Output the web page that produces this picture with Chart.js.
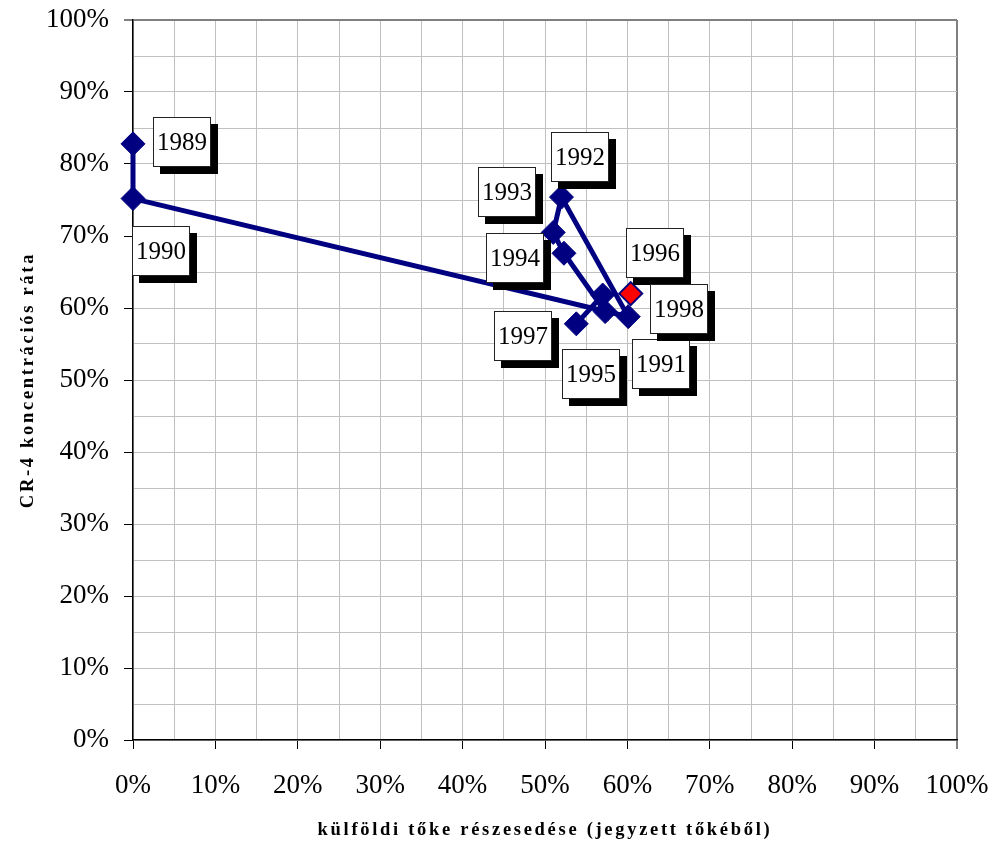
<!DOCTYPE html>
<html>
<head>
<meta charset="utf-8">
<script src="https://cdn.jsdelivr.net/npm/chart.js@4/dist/chart.umd.min.js"></script>
<style>
html,body{margin:0;padding:0;background:#fff;}
#wrap{width:997px;height:843px;position:relative;}
</style>
</head>
<body>
<div id="wrap"><canvas id="c" width="997" height="843"></canvas></div>
<script>
// Data (percent)
const years = ['1989','1990','1991','1992','1993','1994','1995','1996','1997'];
const foreignShare = [0, 0, 60.1, 52.0, 51.0, 52.3, 57.3, 57.0, 53.8];
const cr4 = [82.8, 75.2, 58.8, 75.4, 70.5, 67.6, 59.5, 61.8, 57.8];
const highlightYear = ['1998'];
const highlightShare = [60.4];
const highlightCr4 = [62.0];
const xTitle = 'külföldi tőke részesedése (jegyzett tőkéből)';
const yTitle = 'CR-4 koncentrációs ráta';

// label box offsets relative to point (layout only)
const labelOffsets = {
  '1989':[20,-27], '1990':[-1,27], '1991':[4,22], '1992':[-10,-65], '1993':[-75,-65],
  '1994':[-78,-20], '1995':[-43,37], '1996':[23,-67], '1997':[-82,-13], '1998':[19,-10]
};

const mainPts = years.map((y,i)=>({x:foreignShare[i], y:cr4[i], label:y}));
const hiPts = highlightYear.map((y,i)=>({x:highlightShare[i], y:highlightCr4[i], label:y}));

const serif = "'Liberation Serif','Times New Roman',serif";

const labelPlugin = {
  id:'yearLabels',
  afterDatasetsDraw(chart){
    const ctx = chart.ctx;
    const xs = chart.scales.x, ys = chart.scales.y;
    ctx.save();
    const all = mainPts.concat(hiPts);
    const w = 58, h = 50, sh = 7;
    all.forEach(p=>{
      const px = xs.getPixelForValue(p.x), py = ys.getPixelForValue(p.y);
      const off = labelOffsets[p.label];
      const bx = Math.round(px + off[0]), by = Math.round(py + off[1]);
      ctx.fillStyle = '#000';
      ctx.fillRect(bx+sh, by+sh, w, h);
      ctx.fillStyle = '#fff';
      ctx.fillRect(bx, by, w, h);
      ctx.strokeStyle = '#222';
      ctx.lineWidth = 1;
      ctx.strokeRect(bx+0.5, by+0.5, w-1, h-1);
      ctx.fillStyle = '#000';
      ctx.font = '25px ' + serif;
      ctx.textAlign = 'center';
      ctx.textBaseline = 'middle';
      ctx.fillText(p.label, bx + w/2, by + h/2 + 1);
    });
    ctx.restore();
  },
  afterDraw(chart){
    const ctx = chart.ctx;
    const a = chart.chartArea;
    ctx.save();
    ctx.fillStyle = '#000';
    ctx.font = 'bold 18.5px ' + serif;
    ctx.letterSpacing = '2.7px';
    ctx.textAlign = 'center';
    ctx.textBaseline = 'middle';
    ctx.fillText(xTitle, (a.left + a.right)/2, 830);
    ctx.translate(28, (a.top + a.bottom)/2);
    ctx.rotate(-Math.PI/2);
    ctx.fillText(yTitle, 0, 0);
    ctx.restore();
  }
};

const gridColor = ctx => (ctx.tick && ctx.tick.value === 100) ? '#808080' : '#c0c0c0';
const gridWidth = ctx => (ctx.tick && ctx.tick.value === 100) ? 2 : 1;
const tickCol = ctx => (ctx.tick && ctx.tick.value % 10 === 0) ? '#000' : 'rgba(0,0,0,0)';

new Chart(document.getElementById('c'), {
  type:'scatter',
  data:{
    datasets:[
      {
        data: mainPts,
        showLine:true,
        clip:false,
        borderColor:'#000080',
        borderWidth:5,
        backgroundColor:'#000080',
        pointStyle:'rectRot',
        pointRadius:12,
        pointBorderWidth:1,
        pointBorderColor:'#000080',
        pointBackgroundColor:'#000080',
        tension:0
      },
      {
        data: hiPts,
        showLine:false,
        clip:false,
        pointStyle:'rectRot',
        pointRadius:11.5,
        pointBorderWidth:2,
        pointBorderColor:'#000080',
        pointBackgroundColor:'#ff0000'
      }
    ]
  },
  options:{
    responsive:false,
    animation:false,
    layout:{padding:{left:0, top:20, right:40, bottom:0}},
    plugins:{legend:{display:false}, tooltip:{enabled:false}},
    scales:{
      x:{
        type:'linear', min:0, max:100,
        afterFit(s){ s.height = 103; s.paddingLeft = 0; s.paddingRight = 0; },
        ticks:{stepSize:5, autoSkip:false, maxRotation:0, padding:21,
          color:'#000', font:{family:serif, size:27},
          callback:v => (v % 10 === 0) ? v + '%' : ''},
        grid:{color:gridColor, lineWidth:gridWidth, tickLength:9, tickColor:tickCol, tickWidth:1},
        border:{display:true, color:'#000', width:1.5}
      },
      y:{
        type:'linear', min:0, max:100,
        afterFit(s){ s.width = 133; s.paddingTop = 0; s.paddingBottom = 0; },
        ticks:{stepSize:5, autoSkip:false, padding:15,
          color:'#000', font:{family:serif, size:27},
          callback:v => (v % 10 === 0) ? v + '%' : ''},
        grid:{color:gridColor, lineWidth:gridWidth, tickLength:9, tickColor:tickCol, tickWidth:1},
        border:{display:true, color:'#000', width:1.5}
      }
    }
  },
  plugins:[labelPlugin]
});
</script>
</body>
</html>
